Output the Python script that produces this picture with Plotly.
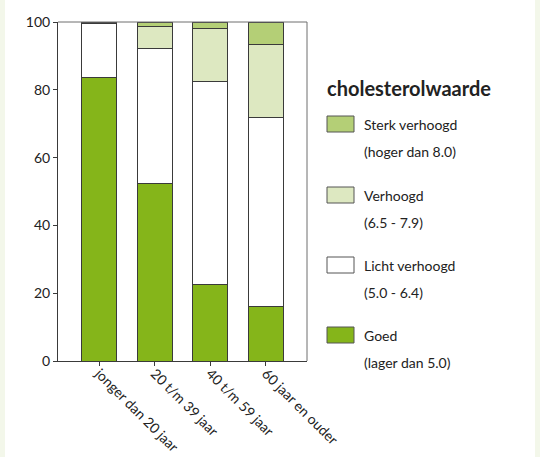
import plotly.graph_objects as go

# Age groups and share (%) per cholesterol class
categories = ["jonger dan 20 jaar", "20 t/m 39 jaar", "40 t/m 59 jaar", "60 jaar en ouder"]
goed = [83.7, 52.4, 22.6, 16.1]
licht_verhoogd = [15.8, 39.7, 59.9, 55.7]
verhoogd = [0.5, 6.7, 15.5, 21.6]
sterk_verhoogd = [0.0, 1.2, 2.0, 6.6]

series_names = ["Goed", "Licht verhoogd", "Verhoogd", "Sterk verhoogd"]
series_ranges = ["(lager dan 5.0)", "(5.0 - 6.4)", "(6.5 - 7.9)", "(hoger dan 8.0)"]
y_ticks = [0, 20, 40, 60, 80, 100]

colors = ["#85b51a", "#ffffff", "#dde8c1", "#b4cf76"]
edge = "#3a3a3a"
font_family = "Lato, 'Open Sans', sans-serif"

W, H = 540, 457
ML, MR, MT, MB = 58, 233, 22, 96
PW, PH = W - ML - MR, H - MT - MB


def px_x(px):
    return (px - ML) / PW


def px_y(py):
    return (H - MB - py) / PH


fig = go.Figure()
for name, vals, col in zip(series_names, [goed, licht_verhoogd, verhoogd, sterk_verhoogd], colors):
    fig.add_trace(go.Bar(
        x=categories, y=vals, name=name,
        marker=dict(color=col, line=dict(color=edge, width=1)),
        showlegend=False,
    ))

shapes = []
annotations = []

# frame lines on top and right
shapes.append(dict(type="line", xref="paper", yref="paper", x0=0, x1=1, y0=1, y1=1,
                   line=dict(color="#6e6e6e", width=1)))
shapes.append(dict(type="line", xref="paper", yref="paper", x0=1, x1=1, y0=0, y1=1,
                   line=dict(color="#6e6e6e", width=1)))

# pale green page edges
shapes.append(dict(type="rect", xref="paper", yref="paper", x0=px_x(0), x1=px_x(5),
                   y0=px_y(H), y1=px_y(0), fillcolor="#f3f7ea", line=dict(width=0), layer="below"))
shapes.append(dict(type="rect", xref="paper", yref="paper", x0=px_x(535), x1=px_x(W),
                   y0=px_y(H), y1=px_y(0), fillcolor="#f3f7ea", line=dict(width=0), layer="below"))

# legend
annotations.append(dict(text="<b>cholesterolwaarde</b>", xref="paper", yref="paper",
                        x=px_x(325), y=px_y(88), xanchor="left", yanchor="middle",
                        showarrow=False, font=dict(size=20, color="#222222", family=font_family)))
legend_rows = [(3, 124), (2, 195), (1, 265), (0, 335)]
for idx, cy in legend_rows:
    shapes.append(dict(type="rect", xref="paper", yref="paper",
                       x0=px_x(327), x1=px_x(354), y0=px_y(cy - 8), y1=px_y(cy + 8),
                       fillcolor=colors[idx], line=dict(color="#555555", width=1)))
    annotations.append(dict(text=series_names[idx], xref="paper", yref="paper",
                            x=px_x(362), y=px_y(cy), xanchor="left", yanchor="middle",
                            showarrow=False, font=dict(size=14, color="#222222", family=font_family)))
    annotations.append(dict(text=series_ranges[idx], xref="paper", yref="paper",
                            x=px_x(362), y=px_y(cy + 27), xanchor="left", yanchor="middle",
                            showarrow=False, font=dict(size=14, color="#222222", family=font_family)))

fig.update_layout(
    width=W, height=H,
    margin=dict(l=ML, r=MR, t=MT, b=MB),
    barmode="stack", bargap=0.37,
    paper_bgcolor="white", plot_bgcolor="white",
    font=dict(family=font_family, size=14, color="#222222"),
    shapes=shapes, annotations=annotations,
    xaxis=dict(range=[-0.74, 3.74], tickangle=45, ticks="outside", ticklen=4,
               tickcolor=edge, showline=True, linecolor=edge, linewidth=1,
               showgrid=False, tickfont=dict(size=14), automargin=False,
               ticklabelstandoff=-6),
    yaxis=dict(range=[0, 100], tickvals=y_ticks, ticks="outside", ticklen=4,
               tickcolor=edge, showline=True, linecolor=edge, linewidth=1,
               showgrid=False, zeroline=False, tickfont=dict(size=14), automargin=False),
)

fig.write_html("out.html")
